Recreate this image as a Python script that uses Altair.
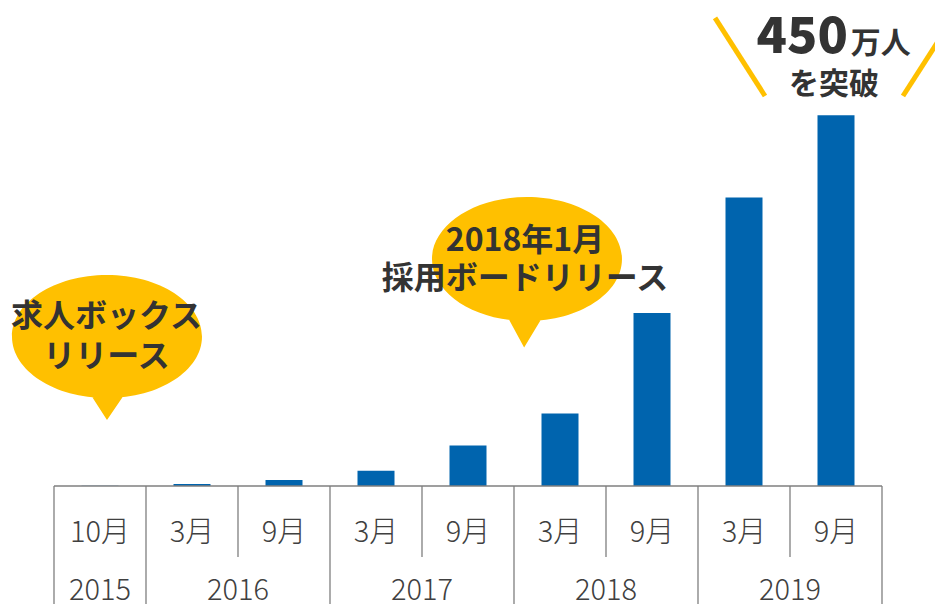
import altair as alt
import pandas as pd

# ---- data ----
months = ["10月", "3月", "9月", "3月", "9月", "3月", "9月", "3月", "9月"]
years = ["2015", "2016", "2016", "2017", "2017", "2018", "2018", "2019", "2019"]
values = [0.4, 2.4, 7.3, 18.6, 49, 88, 210, 350, 450]  # 万人 (estimated)

n = len(months)
bars = pd.DataFrame({
    "idx": [i + 0.5 for i in range(n)],
    "month": months,
    "year": years,
    "value": values,
})

# year label centres (mean of column centres per year)
yr = bars.groupby("year", sort=False)["idx"].mean().reset_index()

# column boundaries; long line where the year changes or at the edges
bounds = []
for b in range(n + 1):
    long_ = b == 0 or b == n or years[b - 1] != years[b]
    bounds.append({"b": b, "kind": "long" if long_ else "short"})
bounds = pd.DataFrame(bounds)

base_line = pd.DataFrame({"x0": [0], "x1": [n], "y0": [0]})

# ---- annotations (positions in data space) ----
bubble_path1 = ("M -1 0 A 1 0.648 0 1 1 1 0 A 1 0.648 0 1 1 -1 0 Z "
                "M -0.18 0.6 L 0.19 0.6 L 0 0.88 Z")
bubble_path2 = ("M -1 0 A 1 0.653 0 1 1 1 0 A 1 0.653 0 1 1 -1 0 Z "
                "M -0.21 0.6 L 0.17 0.6 L -0.03 0.93 Z")
bubbles = pd.DataFrame({
    "x": [0.576, 5.141],
    "y": [181.4, 275.4],
    "path": [bubble_path1, bubble_path2],
})
bubble_lines = pd.DataFrame({
    "x": [0.571, 0.571, 5.12, 5.12],
    "y": [205.1, 156.6, 297.3, 251.2],
    "text": ["求人ボックス", "リリース", "2018年1月", "採用ボードリリース"],
})
slashes = pd.DataFrame({
    "x": [7.185, 9.228],
    "y": [567.9, 473.2],
    "x2": [7.728, 9.772],
    "y2": [473.2, 567.9],
})
big = pd.DataFrame({"x": [8.630], "y": [525.4], "t": ["450"]})
unit = pd.DataFrame({"x": [8.660], "y": [525.4], "t": ["万人"]})
sub = pd.DataFrame({"x": [8.478], "y": [486.6], "t": ["を突破"]})

W, H = 828, 478
xs = alt.Scale(domain=[0, n], nice=False, zero=False, padding=0)
ys = alt.Scale(domain=[0, 580], nice=False, padding=0)
X = lambda f: alt.X(f, type="quantitative", scale=xs, axis=None)
Y = lambda f: alt.Y(f, type="quantitative", scale=ys, axis=None)

FONT = "Noto Sans CJK JP"
DARK = "#333333"
GOLD = "#FFC000"
GRID = "#7f7f7f"

bar_layer = alt.Chart(bars).mark_bar(
    orient="vertical", size=37, color="#0064AE"
).encode(x=X("idx"), y=Y("value"))

baseline_layer = alt.Chart(base_line).mark_rule(color=GRID, strokeWidth=1.5).encode(
    x=X("x0"), x2="x1", y=Y("y0")
)

short_lines = alt.Chart(bounds).transform_filter("datum.kind == 'short'").mark_rule(
    color=GRID, strokeWidth=1.3
).encode(x=X("b"), y=alt.value(H), y2=alt.value(H + 71))

long_lines = alt.Chart(bounds).transform_filter("datum.kind == 'long'").mark_rule(
    color=GRID, strokeWidth=1.3
).encode(x=X("b"), y=alt.value(H), y2=alt.value(H + 140))

month_text = alt.Chart(bars).mark_text(
    font=FONT, fontSize=29, fontWeight=300, color="#404040", baseline="alphabetic"
).encode(x=X("idx"), y=alt.value(H + 56), text="month:N")

year_text = alt.Chart(yr).mark_text(
    font=FONT, fontSize=29, fontWeight=300, color="#404040", baseline="alphabetic"
).encode(x=X("idx"), y=alt.value(H + 114), text="year:N")

bubble_layer = alt.Chart(bubbles).mark_point(
    filled=True, size=36100, color=GOLD, opacity=1, strokeWidth=0
).encode(x=X("x"), y=Y("y"), shape=alt.Shape("path:N", scale=None))

bubble_text_layer = alt.Chart(bubble_lines).mark_text(
    font=FONT, fontSize=32, fontWeight="bold", color=DARK, baseline="middle"
).encode(x=X("x"), y=Y("y"), text="text:N")

slash_layer = alt.Chart(slashes).mark_rule(color=GOLD, strokeWidth=5).encode(
    x=X("x"), y=Y("y"), x2="x2", y2="y2"
)

big_layer = alt.Chart(big).mark_text(
    font=FONT, fontSize=50, fontWeight=900, color=DARK, align="right",
    baseline="alphabetic"
).encode(x=X("x"), y=Y("y"), text="t:N")

unit_layer = alt.Chart(unit).mark_text(
    font=FONT, fontSize=30, fontWeight="bold", color=DARK, align="left",
    baseline="alphabetic"
).encode(x=X("x"), y=Y("y"), text="t:N")

sub_layer = alt.Chart(sub).mark_text(
    font=FONT, fontSize=30, fontWeight="bold", color=DARK, align="center",
    baseline="middle"
).encode(x=X("x"), y=Y("y"), text="t:N")

chart = alt.layer(
    bar_layer, baseline_layer, short_lines, long_lines, month_text, year_text,
    bubble_layer, bubble_text_layer, slash_layer, big_layer, unit_layer, sub_layer
).properties(
    width=W, height=H,
    autosize=alt.AutoSizeParams(type="none"),
    padding={"left": 46, "top": 0, "right": 53, "bottom": 118},
).configure_view(stroke=None)

chart.save("out.html", embed_options={"renderer": "svg", "actions": False})
